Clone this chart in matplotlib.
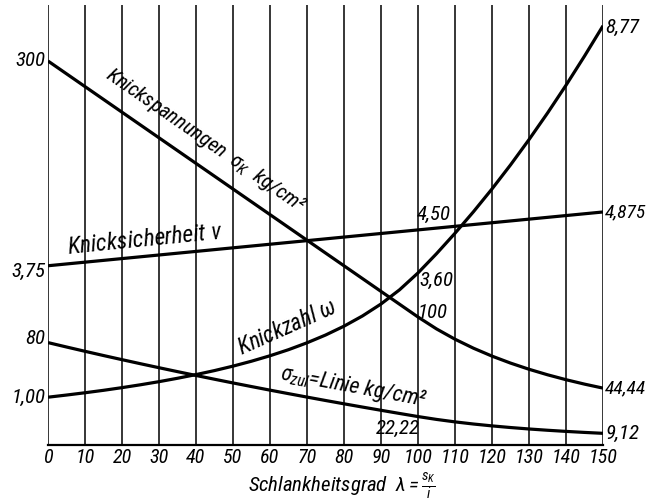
import numpy as np
import matplotlib.pyplot as plt

plt.rcParams['font.family'] = ['Roboto Condensed', 'DejaVu Sans']
plt.rcParams['font.style'] = 'italic'
plt.rcParams['font.stretch'] = 'condensed'
plt.rcParams['mathtext.fontset'] = 'custom'
plt.rcParams['mathtext.rm'] = 'Roboto Condensed:style=italic'
plt.rcParams['mathtext.it'] = 'Roboto Condensed:style=italic'

# Schlankheitsgrad lambda
lam = [0, 5, 10, 15, 20, 25, 30, 35, 40, 45, 50, 55, 60, 65, 70, 75,
       80, 85, 90, 95, 100, 105, 110, 115, 120, 125, 130, 135, 140, 145, 150]
# Knickspannungen sigma_K kg/cm2
sigma_k = [300, 290, 280, 270, 260, 250, 240, 230, 220, 210, 200, 190, 180, 170, 160, 150,
           140, 130, 120, 110, 100, 90.70, 82.64, 75.61, 69.44, 64.00, 59.17, 54.87, 51.02, 47.56, 44.44]
# zulaessige Spannung sigma_zul kg/cm2
sigma_zul = [80.00, 76.57, 73.20, 69.90, 66.67, 63.49, 60.38, 57.32, 54.32, 51.38, 48.48, 45.65,
             42.86, 40.12, 37.43, 34.78, 32.18, 29.63, 27.12, 24.65, 22.22, 19.99, 18.06, 16.39,
             14.93, 13.65, 12.52, 11.52, 10.63, 9.83, 9.12]
# Knickzahl omega
omega = [1.000, 1.045, 1.093, 1.144, 1.200, 1.260, 1.325, 1.396, 1.473, 1.557, 1.650, 1.753,
         1.867, 1.994, 2.138, 2.300, 2.486, 2.700, 2.950, 3.246, 3.600, 4.002, 4.430, 4.881,
         5.357, 5.859, 6.389, 6.944, 7.526, 8.136, 8.77]
# Knicksicherheit nu
lam_nu = [0, 100, 150]
nu = [3.75, 4.50, 4.875]

xticks = list(range(0, 151, 10))

fig = plt.figure(figsize=(6.47, 5.01), dpi=100)
ax = fig.add_axes([48 / 647, 56 / 501, 555 / 647, 440 / 501])
ax2 = ax.twinx()

lw = 2.3
ax.plot(lam, sigma_k, color='black', lw=lw, solid_capstyle='butt')
ax.plot(lam, sigma_zul, color='black', lw=lw, solid_capstyle='butt')
ax2.plot(lam, omega, color='black', lw=lw, solid_capstyle='butt')
ax2.plot(lam_nu, nu, color='black', lw=lw, solid_capstyle='butt')

ax.set_xlim(0, 150)
ax.set_ylim(0, 343.75)
ax2.set_ylim(0, 9.205)

fs = 15
ax.set_xticks(xticks)
ax.set_xticklabels([str(t) for t in xticks], fontsize=14.5)
ax.tick_params(axis='x', length=0, pad=2.5)
ax.set_yticks([])
ax2.set_yticks([])
ax.grid(axis='x', color='black', lw=1.1)
for a in (ax, ax2):
    for s in ('top', 'left', 'right'):
        a.spines[s].set_visible(False)
ax.spines['bottom'].set_linewidth(1.6)
ax2.spines['bottom'].set_visible(False)

# Endwerte links / rechts
ax.annotate('300', (lam[0], sigma_k[0]), xytext=(-2, 0), textcoords='offset points', ha='right', va='center', fontsize=fs)
ax.annotate('80', (lam[0], sigma_zul[0]), xytext=(-2, 3), textcoords='offset points', ha='right', va='center', fontsize=fs)
ax2.annotate('3,75', (lam_nu[0], nu[0]), xytext=(-2, -4), textcoords='offset points', ha='right', va='center', fontsize=fs)
ax2.annotate('1,00', (lam[0], omega[0]), xytext=(-2, 0), textcoords='offset points', ha='right', va='center', fontsize=fs)
ax2.annotate('8,77', (lam[-1], omega[-1]), xytext=(2, -1), textcoords='offset points', ha='left', va='center', fontsize=fs)
ax2.annotate('4,875', (lam_nu[-1], nu[-1]), xytext=(1.5, 0), textcoords='offset points', ha='left', va='center', fontsize=14)
ax.annotate('44,44', (lam[-1], sigma_k[-1]), xytext=(1.5, 0), textcoords='offset points', ha='left', va='center', fontsize=14)
ax.annotate('9,12', (lam[-1], sigma_zul[-1]), xytext=(2, 0), textcoords='offset points', ha='left', va='center', fontsize=fs)

# Werte bei lambda = 100
ax2.text(104.3, 4.83, '4,50', ha='center', va='center', fontsize=fs)
ax2.text(104.9, 3.45, '3,60', ha='center', va='center', fontsize=fs)
ax.text(103.8, 103.9, '100', ha='center', va='center', fontsize=fs)
ax.text(94.6, 13.3, '22,22', ha='center', va='center', fontsize=fs)

# Kurvenbeschriftungen
ax.text(42.5, 238, r'Knickspannungen  $\sigma_K$  kg/cm²', rotation=-34.7, rotation_mode='anchor',
        ha='center', va='center', fontsize=15)
ax2.text(26.2, 4.29, r'Knicksicherheit $\nu$', rotation=5.7, rotation_mode='anchor',
         ha='center', va='center', fontsize=17)
ax2.text(64.5, 2.45, r'Knickzahl $\omega$', rotation=24, rotation_mode='anchor',
         ha='center', va='center', fontsize=16.5)
ax.text(82.5, 45, r'$\sigma_{zul}$=Linie kg/cm²', rotation=-10.5, rotation_mode='anchor',
        ha='center', va='center', fontsize=16)

fig.text(342 / 647, 1 - 486 / 501, r'Schlankheitsgrad  $\lambda=\frac{s_K}{i}$', ha='center', va='center', fontsize=15)

fig.savefig('out.png', dpi=100)
